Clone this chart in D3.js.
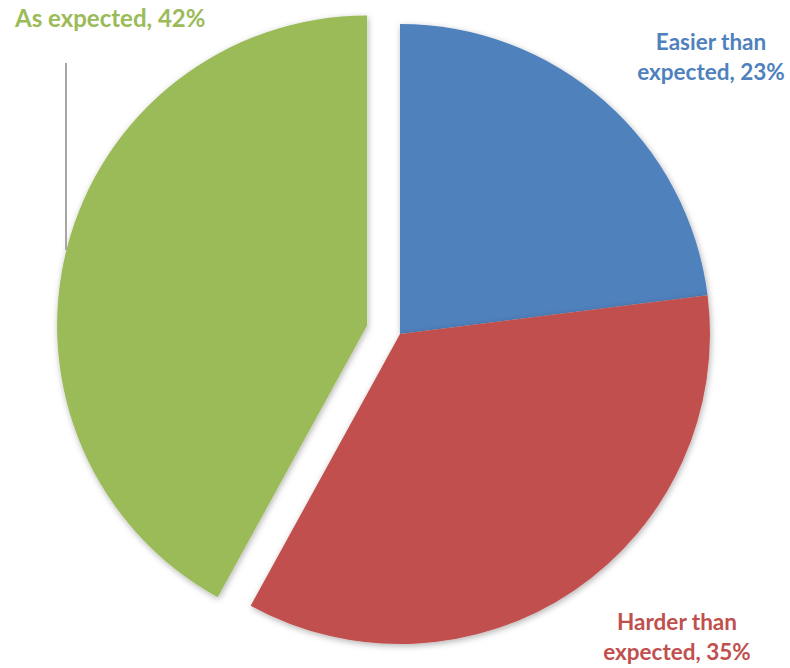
<!DOCTYPE html>
<html>
<head>
<meta charset="utf-8">
<script src="https://cdn.jsdelivr.net/npm/d3@7"></script>
<style>
  html, body { margin: 0; padding: 0; background: #fff; }
  svg { display: block; }
  text { font-family: Lato, "Open Sans", sans-serif; font-weight: 700; }
</style>
</head>
<body>
<div id="chart"></div>
<script>
// Survey answers: how hard the task was compared with expectations
const categories = ["Easier than expected", "Harder than expected", "As expected"];
const values = [23, 35, 42];
const labelLines = [["Easier than", "expected, 23%"], ["Harder than", "expected, 35%"], ["As expected, 42%"]];
const colors = ["#4F81BD", "#C0504D", "#9BBB59"];
const exploded = [0, 0, 1];

const width = 790, height = 668;
const cx = 400, cy = 334, radius = 310, explodeDist = 34;

const svg = d3.select("#chart").append("svg")
  .attr("width", width).attr("height", height);

const defs = svg.append("defs");
const f = defs.append("filter").attr("id", "shadow")
  .attr("x", "-10%").attr("y", "-10%").attr("width", "120%").attr("height", "120%");
f.append("feDropShadow").attr("dx", 1).attr("dy", 2).attr("stdDeviation", 3)
  .attr("flood-color", "#000").attr("flood-opacity", 0.3);

const color = d3.scaleOrdinal().domain(categories).range(colors);
const pie = d3.pie().sort(null).value(d => d.value);
const arc = d3.arc().innerRadius(0).outerRadius(radius);

const data = categories.map((c, i) => ({ cat: c, value: values[i], lines: labelLines[i], explode: exploded[i] }));
const arcs = pie(data);

const g = svg.append("g").attr("transform", `translate(${cx},${cy})`);

g.selectAll("path.slice").data(arcs).join("path")
  .attr("class", "slice")
  .attr("d", arc)
  .attr("fill", d => color(d.data.cat))
  .attr("filter", "url(#shadow)")
  .attr("transform", d => {
    if (!d.data.explode) return null;
    const a = (d.startAngle + d.endAngle) / 2;
    return `translate(${Math.sin(a) * explodeDist},${-Math.cos(a) * explodeDist})`;
  });

// Label placement (outside the pie)
const labelPos = [
  { x: 711, y: 50, anchor: "middle", size: 22.5 },
  { x: 677, y: 630, anchor: "middle", size: 22.5 },
  { x: 15, y: 27, anchor: "start", size: 24 }
];

const labels = svg.selectAll("text.lbl").data(arcs).join("text")
  .attr("class", "lbl")
  .attr("x", (d, i) => labelPos[i].x)
  .attr("y", (d, i) => labelPos[i].y)
  .attr("text-anchor", (d, i) => labelPos[i].anchor)
  .attr("fill", d => color(d.data.cat))
  .style("font-size", (d, i) => labelPos[i].size + "px");

labels.selectAll("tspan").data(d => d.data.lines).join("tspan")
  .attr("x", function () { return d3.select(this.parentNode).attr("x"); })
  .attr("dy", (d, i) => i === 0 ? 0 : 30)
  .text(d => d);

// Leader line from the green label down to its slice
svg.append("line")
  .attr("x1", 66).attr("y1", 63).attr("x2", 66).attr("y2", 250)
  .attr("stroke", "#A6A6A6").attr("stroke-width", 2);
</script>
</body>
</html>
